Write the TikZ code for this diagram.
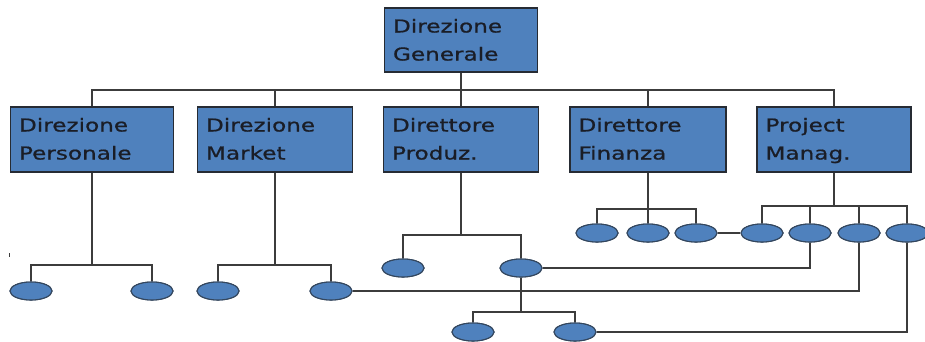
\documentclass[tikz,border=0pt]{standalone}
\usepackage{fontspec}
\setmainfont{DejaVu Sans}[FakeStretch=1.3,FakeBold=0.8]
\usetikzlibrary{shapes.geometric}
\definecolor{boxblue}{HTML}{4F81BD}
\definecolor{boxedge}{HTML}{262B33}
\definecolor{ovaledge}{HTML}{34475E}
\definecolor{wire}{HTML}{3C3C3C}
\definecolor{ink}{HTML}{1A1D26}
\begin{document}
\begin{tikzpicture}[x=1pt,y=-1pt,
  unit/.style={draw=boxedge, line width=1.4pt, fill=boxblue, inner sep=0pt,
    minimum height=65pt},
  caption/.style={anchor=north west, inner sep=0pt, align=left, text=ink,
    font=\fontsize{17.8}{28}\selectfont},
  oval/.style={ellipse, draw=ovaledge, line width=1.1pt, fill=boxblue,
    minimum width=42pt, minimum height=18pt, inner sep=0pt},
  conn/.style={draw=wire, line width=1.5pt}]
\useasboundingbox (0,0) rectangle (925,341);

% top management
\node[unit, minimum width=153pt, minimum height=64pt] (top) at (461,40) {};
% departments
\node[unit, minimum width=163pt] (b1) at (92,139.5) {};
\node[unit, minimum width=155pt] (b2) at (275,139.5) {};
\node[unit, minimum width=155pt] (b3) at (461,139.5) {};
\node[unit, minimum width=156pt] (b4) at (648,139.5) {};
\node[unit, minimum width=154pt] (b5) at (834,139.5) {};

% box captions
\newcommand{\firstline}{\rule{0pt}{14pt}}
\node[caption] (ttop) at ([shift={(9,11)}]top.north west) {\firstline Direzione\\Generale};
\node[caption] (t1) at ([shift={(9,11)}]b1.north west) {\firstline Direzione\\Personale};
\node[caption] (t2) at ([shift={(9,11)}]b2.north west) {\firstline Direzione\\Market};
\node[caption] (t3) at ([shift={(9,11)}]b3.north west) {\firstline Direttore\\Produz.};
\node[caption] (t4) at ([shift={(9,11)}]b4.north west) {\firstline Direttore\\Finanza};
\node[caption] (t5) at ([shift={(9,11)}]b5.north west) {\firstline Project\\Manag.};

% units below the departments
\node[oval] (e1) at (31,291) {};
\node[oval] (e2) at (152,291) {};
\node[oval] (e3) at (218,291) {};
\node[oval] (e4) at (331,291) {};
\node[oval] (e5) at (403,268) {};
\node[oval] (e6) at (521,268) {};
\node[oval] (e7) at (473,332) {};
\node[oval] (e8) at (575,332) {};
\node[oval] (f1) at (597,233) {};
\node[oval] (f2) at (648,233) {};
\node[oval] (f3) at (696,233) {};
\node[oval] (p1) at (762,233) {};
\node[oval] (p2) at (810,233) {};
\node[oval] (p3) at (859,233) {};
\node[oval] (p4) at (907,233) {};

% branch points
\coordinate (hub) at (461,90);
\coordinate (h1) at (92,265);
\coordinate (h2) at (275,265);
\coordinate (h3) at (461,235);
\coordinate (h4) at (648,209);
\coordinate (h5) at (834,206);
\coordinate (h6) at (521,312);

% first level
\draw[conn] (top.south) -- (hub);
\foreach \b in {b1,b2,b3,b4,b5} \draw[conn] (hub) -| (\b.north);

% second level
\draw[conn] (b1.south) -- (h1);
\draw[conn] (h1) -| (e1.north);
\draw[conn] (h1) -| (e2.north);
\draw[conn] (b2.south) -- (h2);
\draw[conn] (h2) -| (e3.north);
\draw[conn] (h2) -| (e4.north);
\draw[conn] (b3.south) -- (h3);
\draw[conn] (h3) -| (e5.north);
\draw[conn] (h3) -| (e6.north);
\draw[conn] (b4.south) -- (h4);
\foreach \u in {f1,f2,f3} \draw[conn] (h4) -| (\u.north);
\draw[conn] (b5.south) -- (h5);
\foreach \u in {p1,p2,p3,p4} \draw[conn] (h5) -| (\u.north);

% third level and cross links
\draw[conn] (e6.south) -- (h6);
\draw[conn] (h6) -| (e7.north);
\draw[conn] (h6) -| (e8.north);
\draw[conn] (f3.east) -- (p1.west);
\draw[conn] (e6.east) -| (p2.south);
\draw[conn] (e4.east) -| (p3.south);
\draw[conn] (e8.east) -| (p4.south);

% small tick at the left margin
\draw[draw=wire, line width=0.9pt] (9.5,253) -- (9.5,256.5);

% redraw ovals on top of the wires
\foreach \u in {e1,e2,e3,e4,e5,e6,e7,e8,f1,f2,f3,p1,p2,p3,p4}
  \path (\u) node[oval] {};
\end{tikzpicture}
\end{document}
